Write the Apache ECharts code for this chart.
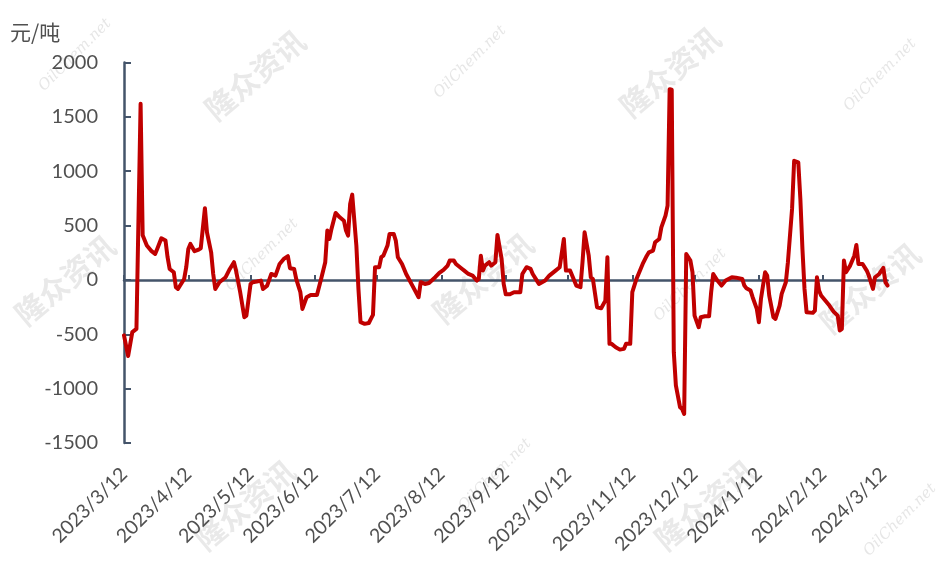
<!DOCTYPE html>
<html><head><meta charset="utf-8">
<script src="https://cdn.jsdelivr.net/npm/echarts@6/dist/echarts.min.js"></script>
<style>html,body{margin:0;padding:0;background:#fff}#c{width:940px;height:564px}</style>
</head><body><div id="c"></div>
<script>
const startDate = '2023-03-12';
const endDate = '2024-03-14';
const unitLabel = '元/吨';
const tickLabels = ['2023/3/12','2023/4/12','2023/5/12','2023/6/12','2023/7/12','2023/8/12','2023/9/12','2023/10/12','2023/11/12','2023/12/12','2024/1/12','2024/2/12','2024/3/12'];
const yMin = -1500, yMax = 2000, yStep = 500;

const dates = [
'2023-03-12','2023-03-14','2023-03-16','2023-03-18','2023-03-20','2023-03-21','2023-03-23','2023-03-25','2023-03-27','2023-03-28','2023-03-30',
'2023-04-01','2023-04-02','2023-04-03','2023-04-05','2023-04-06','2023-04-07','2023-04-10','2023-04-11','2023-04-12','2023-04-13','2023-04-15','2023-04-17','2023-04-18','2023-04-20','2023-04-21','2023-04-23','2023-04-24','2023-04-25','2023-04-27','2023-04-30',
'2023-05-02','2023-05-04','2023-05-05','2023-05-07','2023-05-09','2023-05-10','2023-05-12','2023-05-13','2023-05-15','2023-05-17','2023-05-18','2023-05-20','2023-05-22','2023-05-24','2023-05-26','2023-05-28','2023-05-30','2023-05-31',
'2023-06-02','2023-06-03','2023-06-04','2023-06-05','2023-06-06','2023-06-08','2023-06-10','2023-06-13','2023-06-15','2023-06-17','2023-06-18','2023-06-19','2023-06-20','2023-06-22','2023-06-24','2023-06-26','2023-06-27','2023-06-28','2023-06-29','2023-06-30',
'2023-07-02','2023-07-03','2023-07-04','2023-07-06','2023-07-08','2023-07-09','2023-07-10','2023-07-11','2023-07-13','2023-07-14','2023-07-15','2023-07-17','2023-07-18','2023-07-20','2023-07-21','2023-07-22','2023-07-24','2023-07-26','2023-07-29',
'2023-08-01','2023-08-02','2023-08-04','2023-08-06','2023-08-09','2023-08-11','2023-08-13','2023-08-15','2023-08-16','2023-08-18','2023-08-19','2023-08-22','2023-08-23','2023-08-25','2023-08-27','2023-08-29','2023-08-30','2023-08-31',
'2023-09-01','2023-09-02','2023-09-04','2023-09-05','2023-09-06','2023-09-07','2023-09-08','2023-09-10','2023-09-11','2023-09-12','2023-09-14','2023-09-16','2023-09-19','2023-09-20','2023-09-22','2023-09-24','2023-09-25','2023-09-27','2023-09-28',
'2023-10-01','2023-10-03','2023-10-06','2023-10-08','2023-10-10','2023-10-11','2023-10-13','2023-10-14','2023-10-16','2023-10-18','2023-10-19','2023-10-20','2023-10-22','2023-10-23','2023-10-24','2023-10-26','2023-10-28','2023-10-30','2023-10-31',
'2023-11-01','2023-11-02','2023-11-04','2023-11-06','2023-11-08','2023-11-09','2023-11-11','2023-11-12','2023-11-14','2023-11-16','2023-11-17','2023-11-19','2023-11-20','2023-11-22','2023-11-23','2023-11-25','2023-11-26','2023-11-28','2023-11-29','2023-11-30',
'2023-12-01','2023-12-02','2023-12-03','2023-12-05','2023-12-06','2023-12-07','2023-12-08','2023-12-10','2023-12-11','2023-12-12','2023-12-14','2023-12-15','2023-12-17','2023-12-19','2023-12-20','2023-12-21','2023-12-23','2023-12-25','2023-12-27','2023-12-30',
'2024-01-01','2024-01-04','2024-01-05','2024-01-06','2024-01-08','2024-01-09','2024-01-11','2024-01-12','2024-01-13','2024-01-15','2024-01-16','2024-01-17','2024-01-19','2024-01-20','2024-01-22','2024-01-23','2024-01-25','2024-01-26','2024-01-28','2024-01-29','2024-01-31',
'2024-02-01','2024-02-02','2024-02-03','2024-02-04','2024-02-07','2024-02-08','2024-02-09','2024-02-10','2024-02-11','2024-02-13','2024-02-15','2024-02-17','2024-02-19','2024-02-20','2024-02-21','2024-02-22','2024-02-23','2024-02-25','2024-02-27','2024-02-28','2024-02-29',
'2024-03-02','2024-03-04','2024-03-05','2024-03-07','2024-03-08','2024-03-10','2024-03-12','2024-03-13','2024-03-14'
];
const values = [
-510,-700,-480,-450,1620,410,316,270,239,285,383,
362,209,101,71,-67,-83,9,117,285,331,264,279,291,659,438,254,55,-83,-21,25,
101,163,86,-113,-343,-328,-37,-21,-15,-6,-83,-52,55,40,147,193,218,108,
101,9,-52,-113,-267,-159,-138,-138,9,163,454,377,469,616,576,545,454,408,699,785,
316,-83,-389,-404,-396,-358,-322,117,117,209,223,316,423,423,362,209,147,55,-52,
-159,-21,-37,-28,25,65,92,132,178,178,147,101,86,55,40,-6,9,223,
86,132,163,132,147,163,414,193,-37,-132,-132,-113,-113,55,117,101,55,-6,-37,
-6,40,86,117,377,86,86,40,-52,-67,163,438,223,25,9,-251,-260,-190,209,
-588,-588,-619,-641,-634,-588,-588,-113,9,101,147,223,254,270,346,377,484,591,683,1755,
1750,-665,-971,-1170,-1186,-1232,239,178,71,-328,-435,-343,-334,-334,-113,55,-6,-52,-6,25,
21,9,-52,-76,-98,-159,-267,-389,-175,71,40,-144,-343,-358,-236,-129,-21,163,653,1096,1082,
745,285,-83,-297,-303,-282,25,-98,-144,-190,-236,-291,-328,-466,-450,178,71,132,223,322,147,
147,86,40,-83,25,55,110,-20,-52
];

function iso(d){return d.toISOString().slice(0,10);}
const categories = [];
for (let d = new Date(startDate + 'T00:00:00Z'); iso(d) <= endDate; d.setUTCDate(d.getUTCDate() + 1)) categories.push(iso(d));
function toLabel(s){const p=s.split('-');return p[0]+'/'+(+p[1])+'/'+(+p[2]);}
const isTick = (i, v) => tickLabels.indexOf(toLabel(v)) >= 0;

const axisColor = '#44546A';
const textColor = '#505050';
const wmBig = [[255,75],[65,280],[483,278],[670,72],[870,288],[245,505],[705,505]];
const wmSmall = [[75,55],[470,62],[262,255],[880,75],[690,285],[495,475],[900,520]];
const graphics = [];
wmBig.forEach(p => graphics.push({type:'text', x:p[0], y:p[1], rotation:Math.PI*40/180, z:-10, silent:true,
  style:{text:'隆众资讯', fill:'rgba(200,200,200,0.4)', font:'bold 30px "Noto Sans CJK SC"', align:'center', verticalAlign:'middle'}}));
wmSmall.forEach(p => graphics.push({type:'text', x:p[0], y:p[1], rotation:Math.PI*45/180, z:-10, silent:true,
  style:{text:'OilChem.net', fill:'rgba(200,200,200,0.45)', font:'italic 15px "DejaVu Serif"', align:'center', verticalAlign:'middle'}}));
graphics.push({type:'text', left:10, top:22, style:{text:unitLabel, fill:textColor, font:'21px "Noto Sans CJK SC"'}});

const chart = echarts.init(document.getElementById('c'), null, {renderer:'canvas'});
chart.setOption({
  animation:false,
  backgroundColor:'#fff',
  grid:{left:124, right:52.5, top:62.5, bottom:121, containLabel:false},
  graphic:graphics,
  xAxis:[{
    type:'category', data:categories, boundaryGap:false, position:'bottom',
    axisLine:{show:false, onZero:false}, axisTick:{show:false}, splitLine:{show:false},
    axisLabel:{interval:isTick, formatter:v=>toLabel(v), rotate:45, margin:28, color:textColor, fontSize:19.5, fontFamily:'Lato'}
  },{
    type:'category', data:categories, boundaryGap:false, position:'bottom',
    axisLine:{show:true, onZero:true, lineStyle:{color:axisColor, width:2.5}},
    axisTick:{show:true, inside:true, length:5, interval:isTick, lineStyle:{color:axisColor, width:2}},
    axisLabel:{show:false}, splitLine:{show:false}
  }],
  yAxis:{
    type:'value', min:yMin, max:yMax, interval:yStep,
    axisLine:{show:true, onZero:false, lineStyle:{color:axisColor, width:2.5}},
    axisTick:{show:true, inside:true, length:7, lineStyle:{color:axisColor, width:2}},
    axisLabel:{color:textColor, fontSize:20, fontFamily:'Lato', margin:26, formatter:v=>String(v)},
    splitLine:{show:false}
  },
  series:[{
    type:'line', xAxisIndex:0, data:dates.map((d,i)=>[d, values[i]]),
    showSymbol:false, symbol:'none',
    lineStyle:{color:'#C00000', width:4, join:'round', cap:'round'},
    z:5
  }]
});
</script>
</body></html>
